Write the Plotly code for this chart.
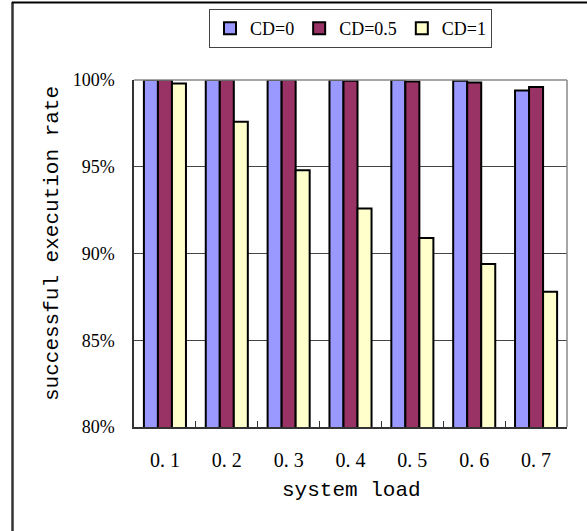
import plotly.graph_objects as go

categories = ["0. 1", "0. 2", "0. 3", "0. 4", "0. 5", "0. 6", "0. 7"]
series_names = ["CD=0", "CD=0.5", "CD=1"]
cd0 = [100, 100, 100, 100, 100, 99.95, 99.4]
cd05 = [100, 100, 100, 99.95, 99.92, 99.85, 99.6]
cd1 = [99.8, 97.6, 94.8, 92.6, 90.9, 89.4, 87.8]
y_ticks = [80, 85, 90, 95, 100]
y_tick_labels = ["80%", "85%", "90%", "95%", "100%"]

colors = ["#9999FF", "#993366", "#FFFFCC"]

W, H = 587, 531
L, R, T, B = 134, 20, 80, 104
pw, ph = W - L - R, H - T - B


def px(x):
    return (x - L) / pw


def py(y):
    return (H - B - y) / ph


fig = go.Figure()
for name, vals, col in zip(series_names, [cd0, cd05, cd1], colors):
    fig.add_trace(go.Bar(
        x=categories, y=vals, name=name,
        marker=dict(color=col, line=dict(color="black", width=2)),
    ))

fig.update_layout(
    width=W, height=H,
    margin=dict(l=L, r=R, t=T, b=B, autoexpand=False),
    paper_bgcolor="white", plot_bgcolor="white",
    barmode="group", bargap=0.32, bargroupgap=0,
    showlegend=True,
    legend=dict(
        orientation="h", x=0.5, xanchor="center", y=py(9), yanchor="top",
        bordercolor="#444", borderwidth=1, bgcolor="white",
        font=dict(family="Liberation Serif", size=18, color="black"),
        itemwidth=30, tracegroupgap=0,
    ),
    xaxis=dict(
        type="category", showline=True, linecolor="#333", linewidth=1.5,
        ticks="inside", tickson="boundaries", ticklen=6, tickcolor="#333",
        tickfont=dict(family="Liberation Serif", size=20, color="black"),
        ticklabelstandoff=14, showgrid=False, zeroline=False,
    ),
    yaxis=dict(
        range=[80, 100], tickmode="array", tickvals=y_ticks, ticktext=y_tick_labels,
        showline=True, linecolor="#333", linewidth=1.5,
        showgrid=True, gridcolor="#444", gridwidth=1,
        tickfont=dict(family="Liberation Serif", size=18, color="black"),
        ticks="", ticklabelstandoff=14, zeroline=False,
    ),
    annotations=[
        dict(text="successful execution rate", xref="paper", yref="paper",
             x=px(52), y=py(244), textangle=-90, showarrow=False,
             xanchor="center", yanchor="middle",
             font=dict(family="Liberation Mono", size=21, color="black")),
        dict(text="system load", xref="paper", yref="paper",
             x=px(351), y=py(490), showarrow=False,
             xanchor="center", yanchor="middle",
             font=dict(family="Liberation Mono", size=21, color="black")),
    ],
    shapes=[
        dict(type="line", xref="paper", yref="paper", x0=0, x1=1, y0=1, y1=1,
             line=dict(color="#888", width=1.5)),
        dict(type="line", xref="paper", yref="paper", x0=1, x1=1, y0=0, y1=1,
             line=dict(color="#888", width=1.5)),
        dict(type="line", xref="paper", yref="paper", x0=px(12.5), x1=px(12.5),
             y0=py(2), y1=py(531), line=dict(color="#333", width=2.5)),
        dict(type="line", xref="paper", yref="paper", x0=px(12), x1=px(587),
             y0=py(2.5), y1=py(2.5), line=dict(color="black", width=2)),
    ],
)

fig.write_html(
    "out.html",
    config={"displayModeBar": False},
    post_script="document.body.style.margin='0';document.body.style.overflow='hidden';",
)
